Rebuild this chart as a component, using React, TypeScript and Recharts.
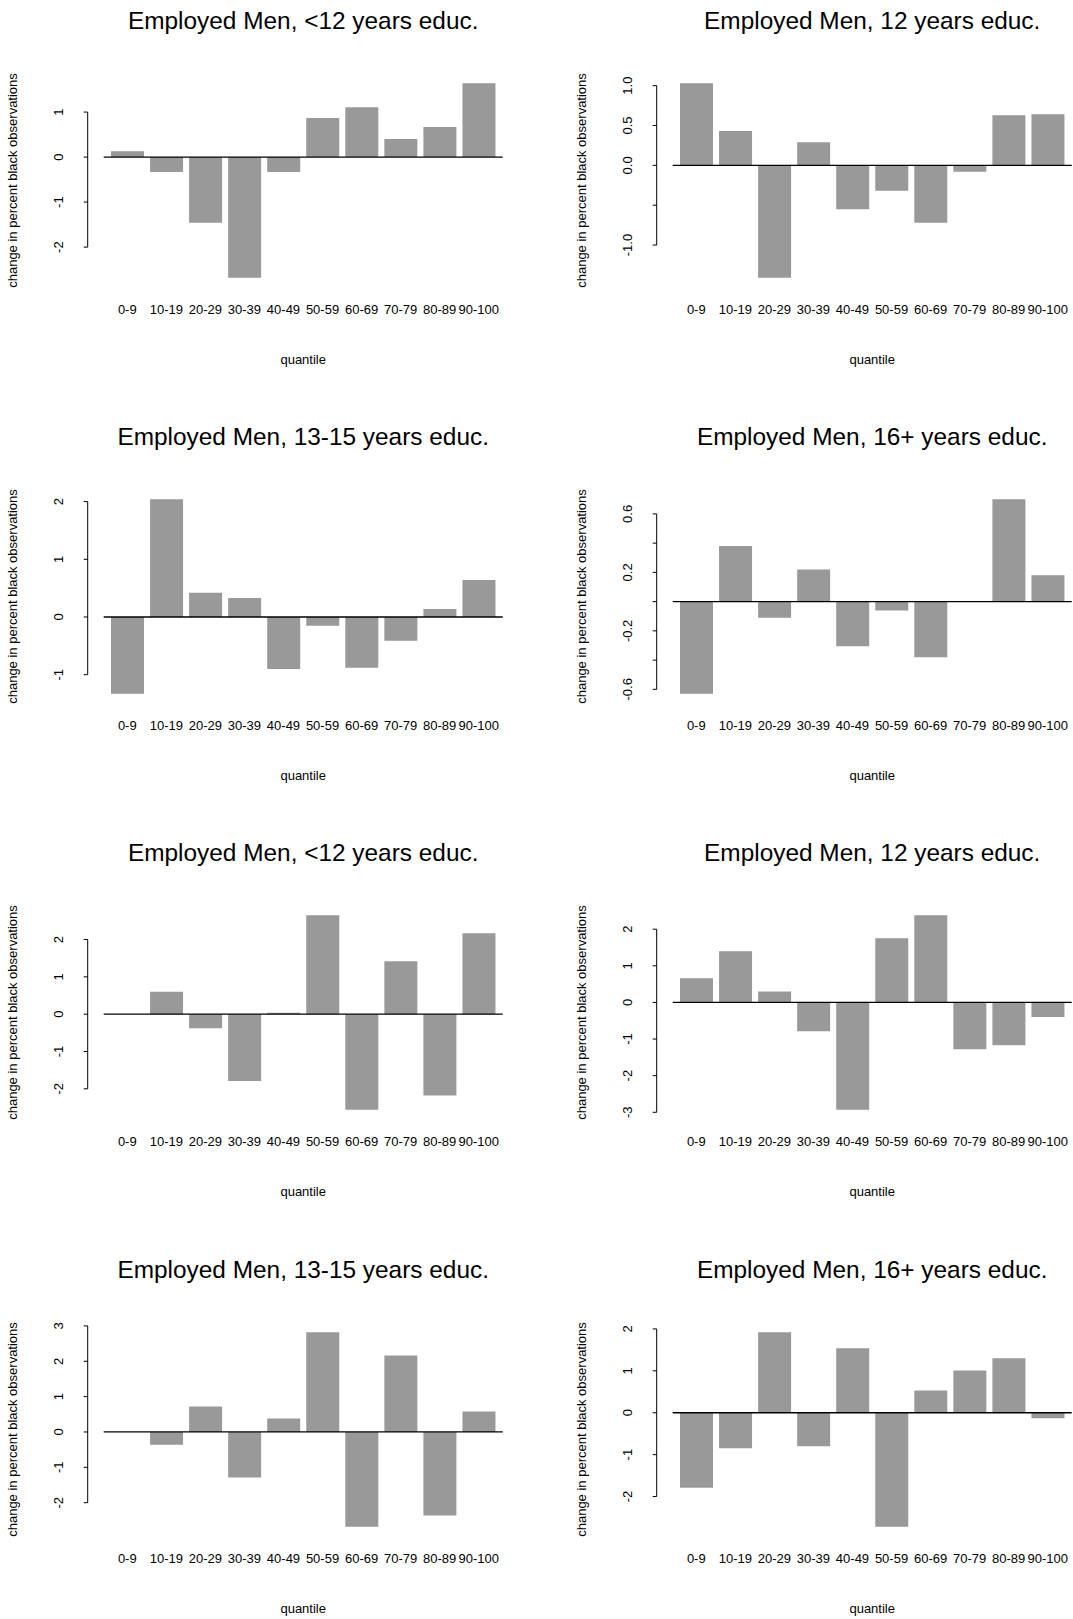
import { Bar, BarChart, ReferenceLine, XAxis, YAxis } from "recharts"

const FONT = "'Liberation Sans', Arial, Helvetica, sans-serif"

const quantiles = ["0-9", "10-19", "20-29", "30-39", "40-49", "50-59", "60-69", "70-79", "80-89", "90-100"]

const titles = [
  "Employed Men, <12 years educ.",
  "Employed Men, 12 years educ.",
  "Employed Men, 13-15 years educ.",
  "Employed Men, 16+ years educ.",
]

// first block of four panels
const lessThan12A = [0.13, -0.33, -1.46, -2.68, -0.33, 0.87, 1.11, 0.4, 0.67, 1.64]
const twelveA = [1.03, 0.43, -1.41, 0.29, -0.55, -0.32, -0.72, -0.08, 0.63, 0.64]
const thirteenTo15A = [-1.33, 2.04, 0.42, 0.33, -0.9, -0.15, -0.88, -0.41, 0.14, 0.64]
const sixteenPlusA = [-0.63, 0.38, -0.11, 0.22, -0.305, -0.06, -0.38, 0.005, 0.7, 0.18]

// second block of four panels
const lessThan12B = [0, 0.6, -0.38, -1.79, 0.04, 2.65, -2.56, 1.42, -2.18, 2.17]
const twelveB = [0.66, 1.4, 0.3, -0.79, -2.93, 1.75, 2.38, -1.28, -1.17, -0.4]
const thirteenTo15B = [0, -0.36, 0.72, -1.29, 0.38, 2.82, -2.68, 2.16, -2.36, 0.58]
const sixteenPlusB = [-1.79, -0.85, 1.92, -0.8, 1.54, -2.72, 0.53, 1.01, 1.3, -0.13]

// y ticks and their labels (blank = tick mark without a label)
const ticksLt12A = [-2, -1, 0, 1]
const labelsLt12A = ["-2", "-1", "0", "1"]
const ticks12A = [-1, -0.5, 0, 0.5, 1]
const labels12A = ["-1.0", "", "0.0", "0.5", "1.0"]
const ticks1315A = [-1, 0, 1, 2]
const labels1315A = ["-1", "0", "1", "2"]
const ticks16A = [-0.6, -0.4, -0.2, 0, 0.2, 0.4, 0.6]
const labels16A = ["-0.6", "", "-0.2", "", "0.2", "", "0.6"]
const ticksLt12B = [-2, -1, 0, 1, 2]
const labelsLt12B = ["-2", "-1", "0", "1", "2"]
const ticks12B = [-3, -2, -1, 0, 1, 2]
const labels12B = ["-3", "-2", "-1", "0", "1", "2"]
const ticks1315B = [-2, -1, 0, 1, 2, 3]
const labels1315B = ["-2", "-1", "0", "1", "2", "3"]
const ticks16B = [-2, -1, 0, 1, 2]
const labels16B = ["-2", "-1", "0", "1", "2"]

const PANEL_W = 504.5
const PANEL_H = 416
const PLOT_LEFT = 103.7
const PLOT_RIGHT = 502.7
const PLOT_TOP = 75.5
const PLOT_BOTTOM = 285.5
const PAD_LEFT = 4.05
const PAD_RIGHT = 4.45
// the y axis line is drawn this far left of the plotting area
const AXIS_GAP = 16
const CENTER_X = (PLOT_LEFT + PLOT_RIGHT) / 2
const Y_AXIS_W = 60
const X_AXIS_H = 40
const SMALL = 13

const COL_X = [0, 568.5]
const ROW_Y = [0, 416.2, 832.4, 1248.6]

type PanelProps = {
  title: string
  values: number[]
  ticks: number[]
  tickLabels: string[]
}

// vertical axis line: y from the scale, shifted from the first band's start to the axis position
const axisLine = (p: any) => {
  const x = p.x1 - PAD_LEFT - AXIS_GAP
  return <line x1={x} x2={x} y1={p.y1} y2={p.y2} stroke="#000" strokeWidth={1} />
}

function Panel({ title, values, ticks, tickLabels }: PanelProps) {
  const data = quantiles.map((q, i) => ({ q, v: values[i] }))
  const lo = Math.min(0, ...values)
  const hi = Math.max(0, ...values)
  const pad = (hi - lo) * 0.04
  const domain = [lo - pad, hi + pad]

  const yTick = (p: any) => {
    const axisX = p.x - AXIS_GAP
    const idx = ticks.findIndex((t) => Math.abs(t - p.payload.value) < 1e-9)
    const label = idx >= 0 ? tickLabels[idx] : ""
    return (
      <g>
        <line x1={axisX - 4} x2={axisX} y1={p.y} y2={p.y} stroke="#000" strokeWidth={1} />
        <text
          transform={`translate(${axisX - 25}, ${p.y}) rotate(-90)`}
          textAnchor="middle"
          fontSize={SMALL}
          fontFamily={FONT}
          fill="#000"
        >
          {label}
        </text>
      </g>
    )
  }

  const xTick = (p: any) => (
    <text x={p.x} y={p.y + 28.6} textAnchor="middle" fontSize={SMALL} fontFamily={FONT} fill="#000">
      {p.payload.value}
    </text>
  )

  return (
    <div style={{ position: "relative", width: PANEL_W, height: PANEL_H }}>
      <BarChart
        width={PANEL_W}
        height={PANEL_H}
        data={data}
        barCategoryGap="8.333%"
        margin={{
          top: PLOT_TOP,
          right: PANEL_W - PLOT_RIGHT,
          bottom: PANEL_H - PLOT_BOTTOM - X_AXIS_H,
          left: PLOT_LEFT - Y_AXIS_W,
        }}
      >
        <XAxis
          dataKey="q"
          height={X_AXIS_H}
          axisLine={false}
          tickLine={false}
          tickSize={0}
          tickMargin={0}
          interval={0}
          padding={{ left: PAD_LEFT, right: PAD_RIGHT }}
          tick={xTick}
        />
        <YAxis
          type="number"
          domain={domain}
          allowDataOverflow
          ticks={ticks}
          interval={0}
          width={Y_AXIS_W}
          axisLine={false}
          tickLine={false}
          tickSize={0}
          tickMargin={0}
          tick={yTick}
        />
        <Bar dataKey="v" fill="#999999" isAnimationActive={false} />
        <ReferenceLine y={0} stroke="#000" strokeWidth={1.3} />
        <ReferenceLine
          segment={[
            { x: quantiles[0], y: ticks[0] },
            { x: quantiles[0], y: ticks[ticks.length - 1] },
          ]}
          position="start"
          ifOverflow="visible"
          shape={axisLine}
        />
      </BarChart>
      <svg
        width={PANEL_W}
        height={PANEL_H}
        style={{ position: "absolute", left: 0, top: 0, pointerEvents: "none" }}
      >
        <text x={CENTER_X} y={29.3} textAnchor="middle" fontSize={24.4} fontFamily={FONT} fill="#000">
          {title}
        </text>
        <text
          transform={`translate(17, ${(PLOT_TOP + PLOT_BOTTOM) / 2}) rotate(-90)`}
          textAnchor="middle"
          fontSize={SMALL}
          fontFamily={FONT}
          fill="#000"
        >
          change in percent black observations
        </text>
        <text x={CENTER_X} y={364} textAnchor="middle" fontSize={SMALL} fontFamily={FONT} fill="#000">
          quantile
        </text>
      </svg>
    </div>
  )
}

const panels: PanelProps[] = [
  { title: titles[0], values: lessThan12A, ticks: ticksLt12A, tickLabels: labelsLt12A },
  { title: titles[1], values: twelveA, ticks: ticks12A, tickLabels: labels12A },
  { title: titles[2], values: thirteenTo15A, ticks: ticks1315A, tickLabels: labels1315A },
  { title: titles[3], values: sixteenPlusA, ticks: ticks16A, tickLabels: labels16A },
  { title: titles[0], values: lessThan12B, ticks: ticksLt12B, tickLabels: labelsLt12B },
  { title: titles[1], values: twelveB, ticks: ticks12B, tickLabels: labels12B },
  { title: titles[2], values: thirteenTo15B, ticks: ticks1315B, tickLabels: labels1315B },
  { title: titles[3], values: sixteenPlusB, ticks: ticks16B, tickLabels: labels16B },
]

export default function App() {
  return (
    <div
      style={{
        position: "absolute",
        left: 0,
        top: 0,
        width: 1073,
        height: 1619,
        overflow: "hidden",
        background: "#fff",
      }}
    >
      {panels.map((p, i) => (
        <div
          key={i}
          style={{ position: "absolute", left: COL_X[i % 2], top: ROW_Y[Math.floor(i / 2)] }}
        >
          <Panel {...p} />
        </div>
      ))}
    </div>
  )
}
